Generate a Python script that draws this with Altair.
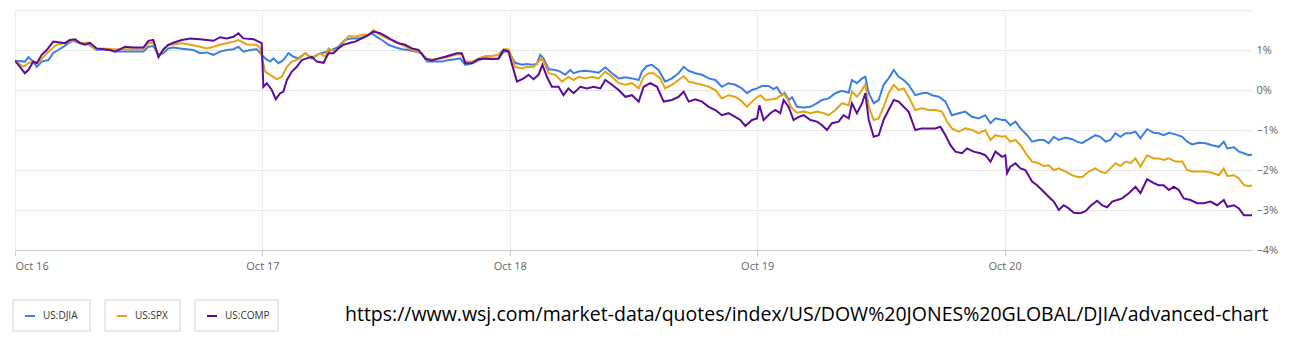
import json
import altair as alt
import pandas as pd

DAY_LABELS = ["Oct 16", "Oct 17", "Oct 18", "Oct 19", "Oct 20"]
SERIES = ["US:DJIA", "US:SPX", "US:COMP"]
COLORS = ["#3b7fe5", "#e6a313", "#5b0c9b"]
Y_TICKS = [-4, -3, -2, -1, 0, 1, 2]
URL = "https://www.wsj.com/market-data/quotes/index/US/DOW%20JONES%20GLOBAL/DJIA/advanced-chart"

# time in trading days since Oct 16 open, value in % change
DJIA_T = [0.0, .040, .054, .074, .088, .108, .135, .155, .175, .195, .216, .236, .263, .290, .310, .330, .357, .384, .411, .438, .465, .492, .519, .539, .559, .580, .600, .620, .640, .667, .694, .721, .748, .775, .802, .829, .856, .883, .903, .923, .950, .977, .991,
          1.011, 1.031, 1.045, 1.065, 1.085, 1.105, 1.126, 1.146, 1.173, 1.200, 1.220, 1.240, 1.260, 1.281, 1.307, 1.334, 1.361, 1.388, 1.415, 1.442, 1.462, 1.483, 1.510, 1.537, 1.564, 1.591, 1.617, 1.644, 1.665, 1.698, 1.725, 1.752, 1.779, 1.799, 1.820, 1.847, 1.874, 1.901, 1.927, 1.954, 1.975, 1.995,
          2.002, 2.022, 2.049, 2.069, 2.089, 2.109, 2.123, 2.136, 2.157, 2.184, 2.204, 2.224, 2.244, 2.258, 2.278, 2.305, 2.332, 2.359, 2.386, 2.413, 2.440, 2.467, 2.494, 2.521, 2.534, 2.554, 2.574, 2.601, 2.628, 2.655, 2.682, 2.703, 2.723, 2.750, 2.777, 2.804, 2.831, 2.857, 2.884, 2.911, 2.938, 2.959, 2.979, 2.999,
          3.019, 3.046, 3.066, 3.080, 3.100, 3.111, 3.127, 3.141, 3.161, 3.188, 3.215, 3.242, 3.262, 3.289, 3.316, 3.343, 3.370, 3.383, 3.403, 3.424, 3.437, 3.451, 3.471, 3.491, 3.511, 3.531, 3.552, 3.572, 3.592, 3.612, 3.639, 3.666, 3.686, 3.707, 3.734, 3.761, 3.787, 3.815, 3.841, 3.868, 3.895, 3.922, 3.943, 3.963, 3.990,
          4.003, 4.023, 4.044, 4.064, 4.091, 4.111, 4.138, 4.158, 4.178, 4.199, 4.219, 4.246, 4.273, 4.293, 4.313, 4.340, 4.367, 4.387, 4.408, 4.428, 4.448, 4.468, 4.489, 4.509, 4.529, 4.549, 4.576, 4.603, 4.623, 4.643, 4.664, 4.691, 4.718, 4.738, 4.758, 4.785, 4.812, 4.839, 4.866, 4.886, 4.900, 4.927, 4.947, 4.967, 4.987, 5.0]
DJIA_V = [.73, .71, .82, .71, .58, .71, .75, .93, 1.0, 1.08, 1.17, 1.23, 1.17, 1.18, 1.08, 1.0, 1.02, 1.0, .96, .96, .96, .96, .96, 1.08, 1.1, .88, .92, 1.04, 1.06, 1.04, 1.02, 1.0, .92, .94, .88, .96, 1.0, 1.02, 1.08, .96, 1.0, 1.02, .92,
          .79, .71, .79, .67, .75, .92, .83, .79, .92, .79, .88, .92, .96, 1.0, 1.08, 1.25, 1.29, 1.29, 1.33, 1.42, 1.33, 1.25, 1.13, 1.07, 1.02, 1.0, .96, .92, .71, .71, .71, .75, .77, .79, .63, .67, .75, .79, .79, .77, .96, .96,
          .88, .68, .63, .65, .63, .65, .88, .79, .52, .5, .46, .38, .5, .42, .46, .48, .46, .43, .57, .42, .29, .32, .29, .25, .46, .6, .63, .5, .21, .29, .42, .58, .48, .42, .38, .29, .25, .08, .17, .13, .04, -.08, 0.0, .04,
          .1, .1, .02, .07, -.13, -.07, -.25, -.18, -.42, -.44, -.42, -.33, -.25, -.21, -.08, -.02, -.07, .25, .17, .29, .33, -.08, -.33, -.25, .13, .29, .5, .33, .25, .13, -.13, -.08, -.07, -.13, -.17, -.29, -.63, -.58, -.54, -.67, -.71, -.63, -.83, -.71, -.75,
          -.75, -.88, -.79, -.96, -1.13, -1.29, -1.25, -1.25, -1.33, -1.17, -1.25, -1.19, -1.23, -1.29, -1.33, -1.23, -1.13, -1.17, -1.29, -1.25, -1.08, -1.17, -1.08, -1.08, -1.04, -1.21, -.98, -1.07, -1.08, -1.13, -1.07, -1.11, -1.17, -1.29, -1.36, -1.32, -1.33, -1.38, -1.42, -1.29, -1.46, -1.43, -1.54, -1.58, -1.63, -1.61]

SPX_T = [0.0, .034, .054, .074, .094, .115, .142, .169, .195, .222, .243, .270, .297, .323, .357, .398, .438, .492, .519, .539, .559, .580, .600, .620, .640, .674, .708, .748, .775, .802, .829, .856, .883, .903, .937, .977, .991,
         1.011, 1.031, 1.058, 1.078, 1.099, 1.119, 1.146, 1.173, 1.193, 1.213, 1.233, 1.254, 1.267, 1.294, 1.321, 1.348, 1.375, 1.402, 1.429, 1.449, 1.476, 1.503, 1.537, 1.564, 1.591, 1.617, 1.644, 1.665, 1.698, 1.725, 1.752, 1.779, 1.806, 1.820, 1.847, 1.874, 1.901, 1.927, 1.954, 1.975, 1.995,
         2.002, 2.022, 2.049, 2.069, 2.096, 2.116, 2.130, 2.143, 2.157, 2.184, 2.211, 2.237, 2.258, 2.278, 2.305, 2.332, 2.359, 2.386, 2.413, 2.440, 2.467, 2.494, 2.521, 2.541, 2.561, 2.581, 2.608, 2.628, 2.655, 2.682, 2.703, 2.723, 2.750, 2.777, 2.804, 2.831, 2.857, 2.884, 2.911, 2.932, 2.959, 2.979, 2.999,
         3.013, 3.033, 3.060, 3.080, 3.107, 3.120, 3.141, 3.161, 3.188, 3.215, 3.242, 3.269, 3.289, 3.316, 3.343, 3.370, 3.383, 3.403, 3.424, 3.437, 3.451, 3.471, 3.491, 3.511, 3.531, 3.552, 3.572, 3.592, 3.612, 3.639, 3.666, 3.693, 3.720, 3.747, 3.767, 3.787, 3.815, 3.841, 3.868, 3.895, 3.922, 3.943, 3.963, 3.990,
         4.003, 4.023, 4.044, 4.064, 4.091, 4.111, 4.138, 4.158, 4.178, 4.199, 4.219, 4.246, 4.273, 4.293, 4.313, 4.340, 4.367, 4.387, 4.408, 4.428, 4.448, 4.468, 4.489, 4.509, 4.529, 4.549, 4.576, 4.603, 4.623, 4.643, 4.664, 4.691, 4.718, 4.738, 4.758, 4.785, 4.812, 4.839, 4.866, 4.886, 4.900, 4.927, 4.947, 4.967, 4.987, 5.0]
SPX_V = [.73, .58, .67, .71, .67, .83, 1.0, 1.13, 1.17, 1.21, 1.25, 1.17, 1.18, 1.02, 1.04, 1.02, 1.02, 1.02, 1.02, 1.17, 1.18, .83, 1.0, 1.13, 1.14, 1.17, 1.13, 1.08, 1.04, 1.08, 1.13, 1.17, 1.21, 1.25, 1.14, 1.13, 1.04,
         .46, .38, .27, .33, .58, .71, .77, .92, .83, .83, .92, .83, 1.04, .96, 1.13, 1.35, 1.33, 1.38, 1.38, 1.5, 1.38, 1.29, 1.21, 1.13, 1.04, .98, .92, .77, .77, .79, .83, .88, .9, .71, .71, .79, .85, .85, .88, 1.02, 1.02,
         .92, .58, .54, .58, .57, .71, .79, .63, .42, .38, .21, .33, .25, .33, .29, .33, .29, .46, .33, .17, .13, .17, .04, .33, .42, .42, .29, .04, .13, .25, .35, .21, .17, .13, .08, 0.0, -.21, -.13, -.17, -.25, -.42, -.29, -.18,
         -.13, -.25, -.23, -.21, -.08, -.21, -.46, -.57, -.54, -.58, -.54, -.58, -.63, -.5, -.33, -.38, -.04, -.17, 0.0, .15, -.42, -.75, -.71, -.42, -.08, .13, 0.0, .04, -.17, -.5, -.46, -.5, -.5, -.54, -.79, -.96, -1.04, -.96, -1.0, -1.08, -1.0, -1.25, -1.13, -1.17,
         -1.15, -1.29, -1.25, -1.38, -1.63, -1.79, -1.83, -1.9, -1.88, -2.0, -1.96, -2.04, -2.13, -2.17, -2.18, -2.04, -1.96, -2.04, -2.08, -1.96, -1.83, -1.9, -1.79, -1.83, -1.71, -1.92, -1.63, -1.71, -1.71, -1.75, -1.71, -1.79, -1.79, -2.0, -2.04, -2.04, -2.04, -2.07, -2.13, -1.96, -2.15, -2.13, -2.21, -2.38, -2.4, -2.39]

COMP_T = [0.0, .020, .040, .054, .074, .088, .108, .128, .155, .182, .202, .222, .243, .263, .283, .303, .330, .357, .384, .404, .425, .445, .478, .519, .539, .559, .580, .600, .620, .640, .674, .708, .748, .775, .802, .829, .856, .883, .903, .923, .964, .984, .997,
          1.004, 1.018, 1.038, 1.054, 1.072, 1.085, 1.099, 1.119, 1.139, 1.159, 1.179, 1.200, 1.220, 1.247, 1.267, 1.287, 1.307, 1.328, 1.355, 1.375, 1.402, 1.429, 1.449, 1.476, 1.503, 1.523, 1.550, 1.577, 1.604, 1.631, 1.658, 1.685, 1.712, 1.739, 1.766, 1.786, 1.806, 1.820, 1.847, 1.874, 1.901, 1.927, 1.954, 1.975, 1.995,
          2.002, 2.029, 2.056, 2.076, 2.096, 2.116, 2.132, 2.150, 2.170, 2.197, 2.217, 2.237, 2.258, 2.285, 2.312, 2.339, 2.366, 2.386, 2.413, 2.440, 2.467, 2.494, 2.521, 2.541, 2.568, 2.595, 2.622, 2.655, 2.682, 2.703, 2.723, 2.750, 2.777, 2.804, 2.831, 2.857, 2.884, 2.911, 2.932, 2.952, 2.979, 2.999,
          3.009, 3.026, 3.053, 3.073, 3.093, 3.107, 3.127, 3.147, 3.168, 3.188, 3.215, 3.242, 3.262, 3.282, 3.302, 3.329, 3.349, 3.370, 3.383, 3.403, 3.424, 3.437, 3.451, 3.471, 3.491, 3.511, 3.531, 3.552, 3.572, 3.592, 3.612, 3.639, 3.666, 3.693, 3.720, 3.740, 3.761, 3.781, 3.801, 3.828, 3.848, 3.875, 3.902, 3.922, 3.943, 3.963, 3.990,
          4.003, 4.010, 4.023, 4.044, 4.064, 4.084, 4.111, 4.131, 4.151, 4.178, 4.199, 4.219, 4.239, 4.259, 4.280, 4.306, 4.327, 4.347, 4.374, 4.394, 4.414, 4.435, 4.455, 4.475, 4.502, 4.529, 4.549, 4.576, 4.603, 4.623, 4.643, 4.664, 4.684, 4.704, 4.724, 4.751, 4.778, 4.805, 4.832, 4.859, 4.886, 4.900, 4.927, 4.947, 4.967, 4.987, 5.0]
COMP_V = [.73, .58, .42, .5, .71, .67, .88, 1.0, 1.21, 1.19, 1.17, 1.25, 1.27, 1.17, 1.13, 1.18, 1.04, 1.02, 1.0, .96, 1.02, 1.08, 1.06, 1.06, 1.23, 1.25, .82, 1.02, 1.13, 1.18, 1.25, 1.29, 1.27, 1.25, 1.23, 1.32, 1.29, 1.33, 1.42, 1.29, 1.27, 1.21, 1.17,
          .08, .17, 0.0, -.23, -.08, -.04, .25, .46, .58, .75, .79, .83, .71, .68, .92, .92, 1.04, 1.13, 1.18, 1.21, 1.29, 1.38, 1.46, 1.42, 1.33, 1.25, 1.17, 1.13, 1.04, 1.0, .79, .73, .79, .83, .88, .92, .92, .67, .67, .77, .79, .77, .79, 1.0, .96,
          .79, .21, .29, .38, .27, .38, .63, .33, .08, .08, -.13, .04, -.08, .08, .04, .08, .04, .25, .13, 0.0, -.17, -.13, -.29, .08, .17, .08, -.29, -.25, -.17, -.04, -.29, -.23, -.29, -.42, -.5, -.63, -.58, -.67, -.75, -.9, -.75, -.71,
          -.38, -.75, -.58, -.5, -.58, -.25, -.42, -.75, -.67, -.63, -.75, -.79, -.88, -1.0, -.83, -.79, -.63, -.71, -.33, -.58, -.33, -.08, -.75, -1.17, -1.13, -.75, -.5, -.25, -.29, -.42, -.54, -1.0, -.96, -.96, -.96, -.92, -1.13, -1.38, -1.54, -1.58, -1.46, -1.54, -1.58, -1.63, -1.79, -1.54, -1.67,
          -1.63, -2.08, -1.92, -1.83, -1.96, -2.0, -2.29, -2.38, -2.5, -2.67, -2.79, -3.0, -2.88, -2.96, -3.07, -3.08, -3.03, -2.9, -2.77, -2.88, -2.93, -2.79, -2.75, -2.71, -2.58, -2.42, -2.58, -2.23, -2.33, -2.38, -2.38, -2.5, -2.42, -2.5, -2.71, -2.75, -2.83, -2.83, -2.79, -2.88, -2.75, -2.92, -2.88, -2.96, -3.13, -3.13, -3.13]

TIMES = [DJIA_T, SPX_T, COMP_T]
VALUES = [DJIA_V, SPX_V, COMP_V]

# ---- layout constants (pixels, relative to plot origin) ----
W, H = 1237, 240
LEG_Y0, LEG_Y1, LEG_YM = 290, 321, 306
BOX_X = [(-2, 75), (90, 165), (180, 263)]
URL_X, URL_Y = 330, 305

label_expr_x = json.dumps(DAY_LABELS) + "[datum.value]"
label_expr_y = "datum.value >= 2 ? '' : (datum.value < 0 ? '\u2212' + abs(datum.value) : '' + datum.value) + '%'"

x_enc = alt.X(
    "t:Q",
    scale=alt.Scale(domain=[0, 5], nice=False, zero=False),
    axis=alt.Axis(
        values=[0, 1, 2, 3, 4], labelExpr=label_expr_x, title=None,
        grid=True, gridColor="#ececec", domainColor="#cccccc", tickColor="#cccccc",
        tickSize=6, labelFlush=True, labelColor="#666666", labelFont="Open Sans",
        labelFontSize=11, labelPadding=4,
    ),
)
y_enc = alt.Y(
    "v:Q",
    scale=alt.Scale(domain=[-4, 2], nice=False, zero=False),
    axis=alt.Axis(
        orient="right", values=Y_TICKS, labelExpr=label_expr_y, title=None,
        grid=True, gridColor="#e6e6e6", domain=False, ticks=False,
        labelColor="#666666", labelFont="Open Sans", labelFontSize=11, labelPadding=4,
    ),
)

layers = []
for name, t, v, c in zip(SERIES, TIMES, VALUES, COLORS):
    assert len(t) == len(v), (name, len(t), len(v))
    d = pd.DataFrame({"t": t, "v": v, "series": name})
    layers.append(
        alt.Chart(d).mark_line(color=c, strokeWidth=2, clip=True).encode(x=x_enc, y=y_enc)
    )

for name, c, (bx0, bx1) in zip(SERIES, COLORS, BOX_X):
    d = pd.DataFrame({"name": [name]})
    layers.append(
        alt.Chart(d).mark_rect(fill="white", stroke="#d4d4d4", strokeWidth=1).encode(
            x=alt.value(bx0), x2=alt.value(bx1), y=alt.value(LEG_Y0), y2=alt.value(LEG_Y1)
        )
    )
    layers.append(
        alt.Chart(d).mark_rule(color=c, strokeWidth=2).encode(
            x=alt.value(bx0 + 12), x2=alt.value(bx0 + 22), y=alt.value(LEG_YM)
        )
    )
    layers.append(
        alt.Chart(d).mark_text(align="left", baseline="middle", font="Open Sans",
                               fontSize=10, color="#333333").encode(
            x=alt.value(bx0 + 30), y=alt.value(LEG_YM), text="name:N"
        )
    )

layers.append(
    alt.Chart(pd.DataFrame({"url": [URL]})).mark_text(
        align="left", baseline="middle", font="Open Sans", fontSize=19.5, color="#000000"
    ).encode(x=alt.value(URL_X), y=alt.value(URL_Y), text="url:N")
)

chart = alt.layer(*layers).properties(
    width=W, height=H,
    padding={"left": 15, "top": 10, "right": 43, "bottom": 96},
    autosize=alt.AutoSizeParams(type="none"),
    background="white",
).configure_view(stroke=None)

chart.save("out.html", embed_options={"renderer": "svg", "actions": False})
